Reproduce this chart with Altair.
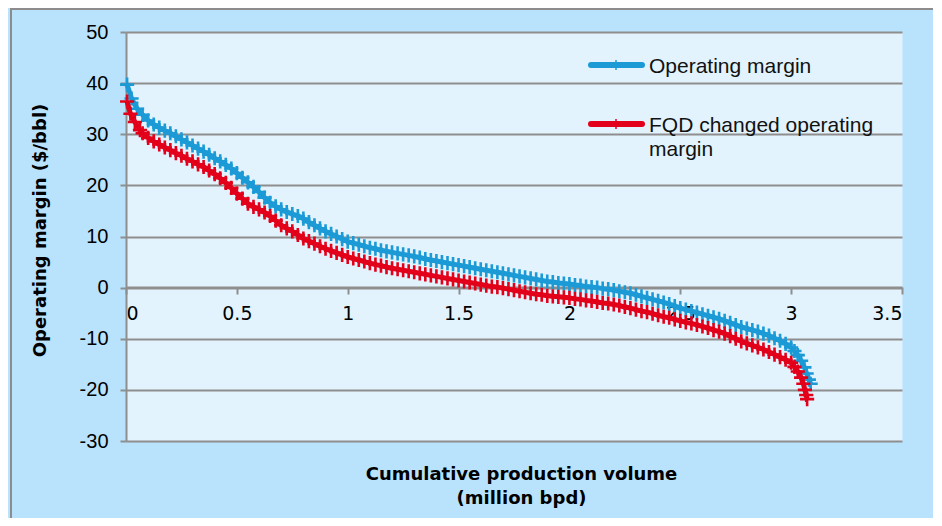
import altair as alt
import pandas as pd

# ---------------- data ----------------
vol_blue = [0.005, 0.025, 0.05, 0.075, 0.1, 0.125, 0.15, 0.175, 0.2, 0.225, 0.25, 0.275, 0.3, 0.325,
            0.35, 0.375, 0.4, 0.425, 0.45, 0.475, 0.5, 0.525, 0.55, 0.575, 0.6, 0.625, 0.65, 0.675,
            0.7, 0.725, 0.75, 0.775, 0.8, 0.825, 0.85, 0.875, 0.9, 0.925, 0.95, 0.975, 1.0, 1.025,
            1.05, 1.075, 1.1, 1.125, 1.15, 1.175, 1.2, 1.225, 1.25, 1.275, 1.3, 1.325, 1.35, 1.375,
            1.4, 1.425, 1.45, 1.475, 1.5, 1.525, 1.55, 1.575, 1.6, 1.625, 1.65, 1.675, 1.7, 1.725,
            1.75, 1.775, 1.8, 1.825, 1.85, 1.875, 1.9, 1.925, 1.95, 1.975, 2.0, 2.025, 2.05, 2.075,
            2.1, 2.125, 2.15, 2.175, 2.2, 2.225, 2.25, 2.275, 2.3, 2.325, 2.35, 2.375, 2.4, 2.425,
            2.45, 2.475, 2.5, 2.525, 2.55, 2.575, 2.6, 2.625, 2.65, 2.675, 2.7, 2.725, 2.75, 2.775,
            2.8, 2.825, 2.85, 2.875, 2.9, 2.925, 2.95, 2.975, 3.0, 3.015, 3.03, 3.045, 3.06, 3.07,
            3.08, 3.088]
margin_blue = [39.7, 37.0, 35.0, 33.8, 32.7, 31.9, 31.3, 30.7, 30.2, 29.6, 29.0, 28.4, 27.8, 27.2,
               26.6, 26.0, 25.3, 24.7, 24.0, 23.3, 22.4, 21.5, 20.6, 19.7, 18.7, 17.6, 16.6, 15.9,
               15.3, 14.8, 14.4, 14.0, 13.5, 12.8, 12.2, 11.6, 11.0, 10.5, 10.0, 9.5, 9.0, 8.7,
               8.4, 8.1, 7.8, 7.6, 7.3, 7.1, 6.9, 6.7, 6.5, 6.3, 6.1, 5.9, 5.6, 5.4,
               5.2, 5.0, 4.8, 4.6, 4.4, 4.2, 4.0, 3.8, 3.6, 3.4, 3.2, 3.0, 2.8, 2.6,
               2.4, 2.2, 2.0, 1.8, 1.6, 1.4, 1.2, 1.1, 0.9, 0.8, 0.7, 0.5, 0.4, 0.2,
               0.1, 0.0, -0.2, -0.3, -0.5, -0.7, -0.9, -1.1, -1.4, -1.7, -2.0, -2.3, -2.6, -2.9,
               -3.2, -3.6, -4.0, -4.3, -4.6, -4.9, -5.2, -5.5, -5.8, -6.1, -6.5, -6.9, -7.3, -7.7,
               -8.0, -8.3, -8.6, -9.0, -9.4, -9.9, -10.4, -11.0, -11.7, -12.4, -13.2, -14.3, -15.6, -16.8,
               -18.0, -18.8]

vol_red = [0.005, 0.02, 0.04, 0.063, 0.075, 0.1, 0.125, 0.15, 0.175, 0.2, 0.225, 0.25, 0.275, 0.3,
           0.325, 0.35, 0.375, 0.4, 0.425, 0.45, 0.475, 0.5, 0.525, 0.55, 0.575, 0.6, 0.625, 0.65,
           0.675, 0.7, 0.725, 0.75, 0.775, 0.8, 0.825, 0.85, 0.875, 0.9, 0.925, 0.95, 0.975, 1.0,
           1.025, 1.05, 1.075, 1.1, 1.125, 1.15, 1.175, 1.2, 1.225, 1.25, 1.275, 1.3, 1.325, 1.35,
           1.375, 1.4, 1.425, 1.45, 1.475, 1.5, 1.525, 1.55, 1.575, 1.6, 1.625, 1.65, 1.675, 1.7,
           1.725, 1.75, 1.775, 1.8, 1.825, 1.85, 1.875, 1.9, 1.925, 1.95, 1.975, 2.0, 2.025, 2.05,
           2.075, 2.1, 2.125, 2.15, 2.175, 2.2, 2.225, 2.25, 2.275, 2.3, 2.325, 2.35, 2.375, 2.4,
           2.425, 2.45, 2.475, 2.5, 2.525, 2.55, 2.575, 2.6, 2.625, 2.65, 2.675, 2.7, 2.725, 2.75,
           2.775, 2.8, 2.825, 2.85, 2.875, 2.9, 2.925, 2.95, 2.975, 3.0, 3.015, 3.03, 3.045, 3.055,
           3.062, 3.068, 3.072]
margin_red = [36.4, 34.0, 32.4, 30.8, 30.2, 29.3, 28.6, 28.0, 27.4, 26.9, 26.3, 25.8, 25.2, 24.7,
              24.1, 23.6, 22.9, 22.2, 21.4, 20.5, 19.5, 18.4, 17.4, 16.4, 15.8, 15.3, 14.7, 14.0,
              13.1, 12.2, 11.6, 11.0, 10.3, 9.6, 9.1, 8.6, 8.1, 7.6, 7.2, 6.8, 6.4, 6.0,
              5.7, 5.4, 5.1, 4.8, 4.5, 4.3, 4.0, 3.8, 3.6, 3.4, 3.2, 3.0, 2.8, 2.6,
              2.4, 2.2, 2.0, 1.8, 1.6, 1.4, 1.2, 1.0, 0.8, 0.6, 0.4, 0.2, 0.1, -0.1,
              -0.3, -0.5, -0.7, -0.9, -1.1, -1.3, -1.4, -1.6, -1.7, -1.8, -1.9, -2.0, -2.2, -2.3,
              -2.5, -2.6, -2.8, -3.0, -3.1, -3.3, -3.5, -3.8, -4.0, -4.3, -4.6, -4.8, -5.1, -5.4,
              -5.7, -5.9, -6.2, -6.5, -6.8, -7.0, -7.3, -7.6, -7.9, -8.3, -8.6, -9.0, -9.5, -10.0,
              -10.5, -10.9, -11.3, -11.7, -12.1, -12.6, -13.1, -13.6, -14.1, -14.7, -15.5, -16.4, -17.6, -18.8,
              -20.0, -21.0, -21.8]

series_names = ["Operating margin", "FQD changed operating margin"]
legend_labels = ["Operating margin", "FQD changed operating\nmargin"]
series_colors = ["#1B9AD6", "#E2001A"]
x_ticks = [0, 0.5, 1, 1.5, 2, 2.5, 3, 3.5]
y_ticks = [-30, -20, -10, 0, 10, 20, 30, 40, 50]
x_title = ["Cumulative production volume", "(million bpd)"]
y_title = "Operating margin ($/bbl)"

# ---------------- build table ----------------
df = pd.concat([
    pd.DataFrame({"volume": vol_blue, "margin": margin_blue, "series": series_names[0],
                  "idx": list(range(len(vol_blue)))}),
    pd.DataFrame({"volume": vol_red, "margin": margin_red, "series": series_names[1],
                  "idx": list(range(len(vol_red)))}),
], ignore_index=True)

W, H = 776, 409
GRID = "#8E8E8E"
cross = "M-1,0H1M0,-1V1"

xscale = alt.Scale(domain=[0, 3.5], nice=False, zero=False)
yscale = alt.Scale(domain=[-30, 50], nice=False, zero=False)
color = alt.Color("series:N", scale=alt.Scale(domain=series_names, range=series_colors), legend=None)

x_enc = alt.X("volume:Q", scale=xscale, axis=alt.Axis(
    values=x_ticks, labelExpr="'' + datum.value", offset=-154, grid=False,
    domainColor=GRID, domainWidth=2, tickColor=GRID, tickWidth=2, tickSize=7,
    labelFont="DejaVu Sans", labelFontSize=19, labelColor="#000000", labelPadding=10,
    title=x_title, titleFont="DejaVu Sans", titleFontSize=18, titleFontWeight="bold",
    titleColor="#000000", titleX=395, titleY=192, titleAlign="center",
    titleBaseline="alphabetic", titleLineHeight=24))
y_enc = alt.Y("margin:Q", scale=yscale, axis=alt.Axis(
    values=y_ticks, labelExpr="'' + datum.value", grid=True, gridColor=GRID, gridWidth=2,
    domainColor=GRID, domainWidth=2, tickColor=GRID, tickWidth=2, tickSize=6,
    labelFont="Liberation Sans", labelFontSize=20, labelColor="#000000", labelPadding=12,
    title=y_title, titleFont="DejaVu Sans", titleFontSize=18, titleFontWeight="bold",
    titleColor="#000000", titleX=-86, titleY=198, titleAngle=-90, titleAlign="center",
    titleBaseline="middle"))

base = alt.Chart(df).encode(x=x_enc, y=y_enc, color=color, order="idx:Q")

layers = []
for name in series_names:
    f = alt.datum.series == name
    layers.append(base.transform_filter(f).mark_line(strokeWidth=5, strokeJoin="round"))
    layers.append(base.transform_filter(f).mark_point(shape=cross, size=200, strokeWidth=2.6,
                                                       filled=False, opacity=1))

# ---------------- manual legend ----------------
leg_df = pd.DataFrame({"label": legend_labels, "series": series_names})
leg_y = [33, 92]
for i in range(2):
    one = alt.Chart(leg_df.iloc[[i]])
    col = series_colors[i]
    layers.append(one.mark_rule(color=col, strokeWidth=6, strokeCap="round").encode(
        x=alt.value(465), x2=alt.value(516), y=alt.value(leg_y[i])))
    layers.append(one.mark_rule(color=col, strokeWidth=1.5).encode(
        x=alt.value(490), y=alt.value(leg_y[i] - 5), y2=alt.value(leg_y[i] + 5)))
    layers.append(one.mark_text(align="left", baseline="alphabetic", font="Liberation Sans",
                                fontSize=21, color="#111111", lineBreak="\n", lineHeight=24).encode(
        x=alt.value(523), y=alt.value(leg_y[i] + 8), text="label:N"))

# outer frame
frame = alt.Chart(pd.DataFrame({"k": [0]})).mark_rect(
    fillOpacity=0, stroke="#8C8C8C", strokeWidth=2).encode(
    x=alt.value(-115), x2=alt.value(W + 80), y=alt.value(-23), y2=alt.value(H + 150))

chart = alt.layer(*layers, frame).properties(
    width=W, height=H,
    autosize=alt.AutoSizeParams(type="none"),
    padding={"left": 118, "top": 24, "right": 31, "bottom": 77},
    background="#B9E3FD",
).configure_view(fill="#E2F3FD", stroke="transparent")

chart.save("out.html", embed_options={"renderer": "svg", "actions": False})
